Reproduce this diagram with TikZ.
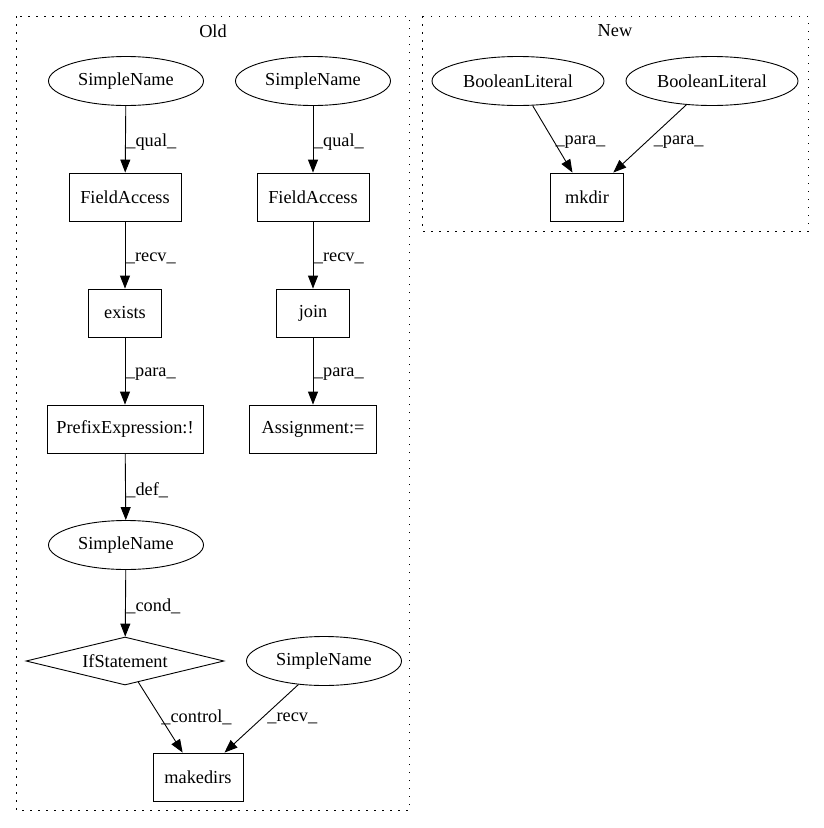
\documentclass[tikz,border=0pt]{standalone}
\usepackage{fontspec}
\setmainfont{Liberation Serif}
\usetikzlibrary{arrows.meta, shapes.geometric}

\begin{document}
\begin{tikzpicture}[
  x=1pt, y=-1pt,
  font=\fontsize{18.3}{22}\selectfont,
  box/.style={draw, line width=0.9pt, minimum height=48pt, inner sep=0pt},
  oval/.style={ellipse, draw, line width=0.9pt, minimum height=49pt, inner sep=0pt},
  cond/.style={diamond, aspect=4.1, draw, line width=0.9pt, minimum width=198pt, minimum height=48pt, inner sep=0pt},
  cluster/.style={draw, line width=0.9pt, dash pattern=on 1.5pt off 6.5pt},
  arr/.style={-{Triangle[length=13pt, width=10pt]}, line width=0.9pt},
  lab/.style={anchor=west, inner sep=0.5pt}
]
\useasboundingbox (0,0) rectangle (824,828);

% clusters
\draw[cluster] (16,16) rectangle (409,810);
\node at (213,31) {Old};
\draw[cluster] (422,16) rectangle (808,231);
\node at (615,31) {New};

% old
\node[oval, minimum width=155pt] (sn1) at (126,81) {SimpleName};
\node[oval, minimum width=155pt] (sn2) at (313,81) {SimpleName};
\node[box, minimum width=112pt] (fa1) at (125,197) {FieldAccess};
\node[box, minimum width=112pt] (fa2) at (313,197) {FieldAccess};
\node[box, minimum width=73pt] (ex) at (125,313) {exists};
\node[box, minimum width=73pt] (jn) at (313,313) {join};
\node[box, minimum width=156pt] (pre) at (125,429) {PrefixExpression:!};
\node[box, minimum width=127pt] (asg) at (313,429) {Assignment:=};
\node[oval, minimum width=155pt] (sn3) at (126,545) {SimpleName};
\node[cond] (ifs) at (125,661) {IfStatement};
\node[oval, minimum width=155pt] (sn4) at (324,661) {SimpleName};
\node[box, minimum width=90pt] (mk) at (198,777) {makedirs};

% new
\node[oval, minimum width=172pt] (bl1) at (518,81) {BooleanLiteral};
\node[oval, minimum width=172pt] (bl2) at (712,81) {BooleanLiteral};
\node[box, minimum width=73pt] (md) at (587,197) {mkdir};

\draw[arr] (sn1) -- node[lab, yshift=-3pt] {\_qual\_} (fa1);
\draw[arr] (sn2) -- node[lab, yshift=-3pt] {\_qual\_} (fa2);
\draw[arr] (fa1) -- node[lab, yshift=-3pt] {\_recv\_} (ex);
\draw[arr] (fa2) -- node[lab, yshift=-3pt] {\_recv\_} (jn);
\draw[arr] (ex) -- node[lab, yshift=-3pt] {\_para\_} (pre);
\draw[arr] (jn) -- node[lab, yshift=-3pt] {\_para\_} (asg);
\draw[arr] (pre) -- node[lab, yshift=-3pt] {\_def\_} (sn3);
\draw[arr] (sn3) -- node[lab, yshift=-3pt] {\_cond\_} (ifs);
\draw[arr] (ifs) -- node[lab] {\_control\_} (mk);
\draw[arr] (sn4) -- node[lab, xshift=5pt] {\_recv\_} (mk);
\draw[arr] (bl1) -- node[lab, xshift=2pt, yshift=-3pt] {\_para\_} (md);
\draw[arr] (bl2) -- node[lab, xshift=3pt, yshift=-3pt] {\_para\_} (md);
\end{tikzpicture}
\end{document}
